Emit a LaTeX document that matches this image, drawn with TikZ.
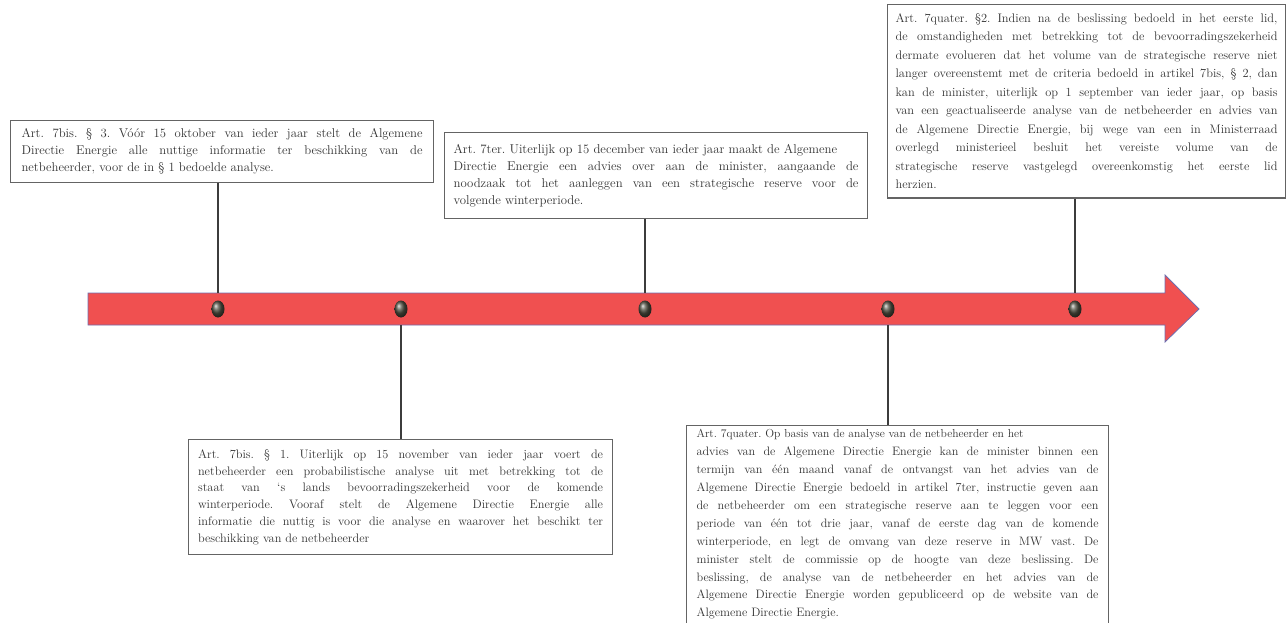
\documentclass[tikz,border=0pt]{standalone}
\usepackage{fontspec}
\usetikzlibrary{shapes.geometric}
\definecolor{bandred}{RGB}{240,80,80}
\definecolor{bandedge}{RGB}{110,110,175}
\definecolor{boxgray}{RGB}{100,100,100}
\definecolor{inkgray}{RGB}{50,50,50}
\definecolor{stemgray}{RGB}{60,60,60}
\definecolor{knobgray}{RGB}{80,80,66}
\tikzset{
  art/.style  ={draw=boxgray,line width=1.1pt,anchor=north west,align=justify,
                text=inkgray,inner xsep=10pt,inner ysep=9pt},
  stem/.style ={draw=stemgray,line width=1.6pt},
  knob/.style ={ellipse,shade,ball color=knobgray,minimum width=13pt,
                minimum height=17pt,inner sep=0pt},
  band/.style ={fill=bandred,draw=bandedge,line width=0.8pt},
}
\newcommand{\artfont}[2]{\fontsize{#1}{#2}\selectfont}
\hbadness=10000
\frenchspacing

\begin{document}
\begin{tikzpicture}[x=1pt,y=-1pt]
\useasboundingbox (0,0) rectangle (1288,623);

% timeline arrow
\draw[band] (88,293) -- (1165,293) -- (1165,275) -- (1199,309)
  -- (1165,342) -- (1165,325) -- (88,325) -- cycle;
\coordinate (top) at (0,293);
\coordinate (bot) at (0,325);

\node[knob] (d1) at (218,309) {};
\node[knob] (d2) at (401,309) {};
\node[knob] (d3) at (645,309) {};
\node[knob] (d4) at (888,309) {};
\node[knob] (d5) at (1075,309) {};

% articles above the line
\node[art,text width=401pt,inner xsep=11pt,inner ysep=8pt,font=\artfont{12.7}{17}] (b1) at (10,120)
  {Art. 7bis. § 3. Vóór 15 oktober van ieder jaar stelt de Algemene\linebreak
   Directie Energie alle nuttige informatie ter beschikking van de\linebreak
   netbeheerder, voor de in § 1 bedoelde analyse.};
\node[art,text width=405pt,inner xsep=9pt,inner ysep=11.5pt,font=\artfont{12.8}{17}] (b2) at (444,132)
  {Art. 7ter. Uiterlijk op 15 december van ieder jaar maakt de Algemene\newline
   Directie Energie een advies over aan de minister, aangaande de\linebreak
   noodzaak tot het aanleggen van een strategische reserve voor de\linebreak
   volgende winterperiode.};
\node[art,text width=382pt,inner xsep=8pt,inner ysep=9pt,font=\artfont{12.4}{18.5}] (b3) at (887,4)
  {Art. 7quater. §2. Indien na de beslissing bedoeld in het eerste lid,\linebreak
   de omstandigheden met betrekking tot de bevoorradingszekerheid\linebreak
   dermate evolueren dat het volume van de strategische reserve niet\linebreak
   langer overeenstemt met de criteria bedoeld in artikel 7bis, § 2, dan\linebreak
   kan de minister, uiterlijk op 1 september van ieder jaar, op basis\linebreak
   van een geactualiseerde analyse van de netbeheerder en advies van\linebreak
   de Algemene Directie Energie, bij wege van een in Ministerraad\linebreak
   overlegd ministerieel besluit het vereiste volume van de\linebreak
   strategische reserve vastgelegd overeenkomstig het eerste lid\linebreak
   herzien.};

% articles below the line
\node[art,text width=405pt,inner xsep=9.5pt,inner ysep=10pt,font=\artfont{12.3}{16.8}] (b4) at (188,439)
  {Art. 7bis. § 1. Uiterlijk op 15 november van ieder jaar voert de\linebreak
   netbeheerder een probabilistische analyse uit met betrekking tot de\linebreak
   staat van ‘s lands bevoorradingszekerheid voor de komende\linebreak
   winterperiode. Vooraf stelt de Algemene Directie Energie alle\linebreak
   informatie die nuttig is voor die analyse en waarover het beschikt ter\linebreak
   beschikking van de netbeheerder};
\node[art,text width=402pt,inner xsep=10pt,inner ysep=4pt,font=\artfont{12.2}{17.9}] (b5) at (686,425)
  {{\fontsize{11.6}{17.9}\selectfont Art. 7quater. Op basis van de analyse van de netbeheerder en het}\newline
   advies van de Algemene Directie Energie kan de minister binnen een\linebreak
   termijn van één maand vanaf de ontvangst van het advies van de\linebreak
   Algemene Directie Energie bedoeld in artikel 7ter, instructie geven aan\linebreak
   de netbeheerder om een strategische reserve aan te leggen voor een\linebreak
   periode van één tot drie jaar, vanaf de eerste dag van de komende\linebreak
   winterperiode, en legt de omvang van deze reserve in MW vast. De\linebreak
   minister stelt de commissie op de hoogte van deze beslissing. De\linebreak
   beslissing, de analyse van de netbeheerder en het advies van de\linebreak
   Algemene Directie Energie worden gepubliceerd op de website van de\linebreak
   Algemene Directie Energie.\newline\mbox{}};

\draw[stem] (b1.south -| d1) -- (d1 |- top);
\draw[stem] (b2.south -| d3) -- (d3 |- top);
\draw[stem] (b3.south -| d5) -- (d5 |- top);
\draw[stem] (d2 |- bot) -- (b4.north -| d2);
\draw[stem] (d4 |- bot) -- (b5.north -| d4);
\end{tikzpicture}
\end{document}
